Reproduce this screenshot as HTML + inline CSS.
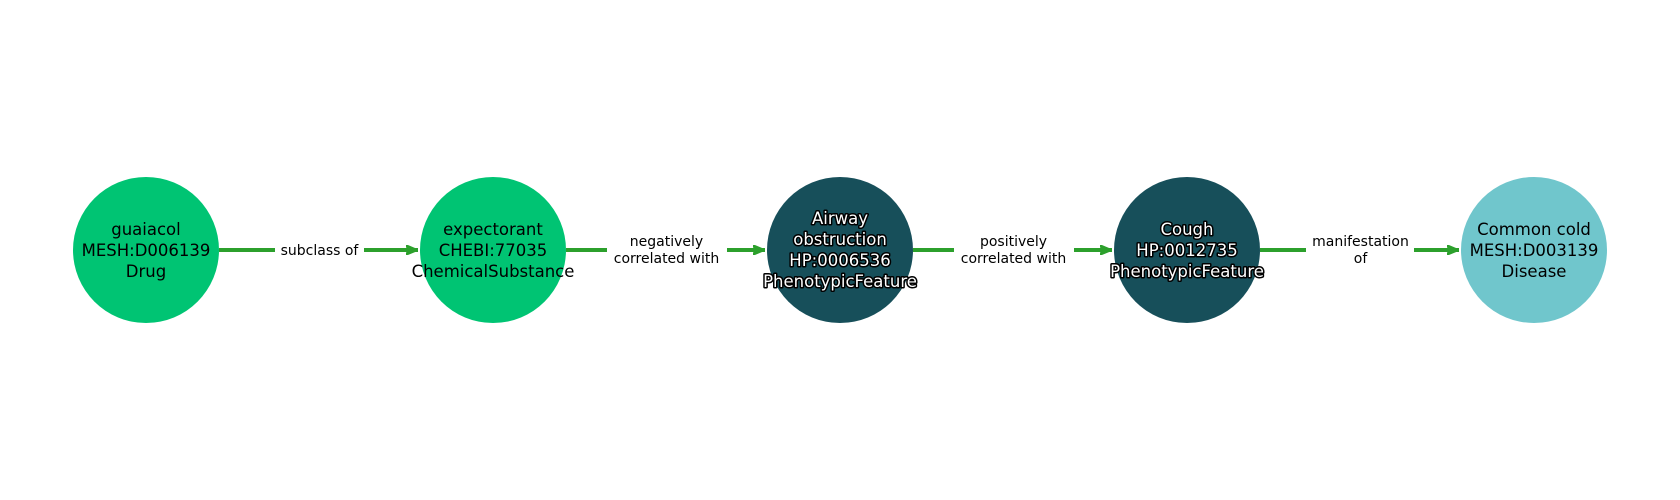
<!DOCTYPE html>
<html><head><meta charset="utf-8"><style>
body{margin:0;background:#fff}
svg{display:block}
text{font-family:"DejaVu Sans","Liberation Sans",sans-serif}
.n{font-size:16.5px;text-anchor:middle}
.w{fill:#fff;stroke:#000;stroke-width:3;paint-order:stroke;stroke-linejoin:round}
.e{font-size:14px;text-anchor:middle;fill:#000}
</style></head><body>
<svg width="1680" height="500" viewBox="0 0 1680 500">
<defs><marker id="a" markerWidth="12" markerHeight="10" refX="12" refY="5" orient="auto" markerUnits="userSpaceOnUse"><path d="M0,0 L12,5 L0,10 L2,5 Z" fill="#2ca02c" stroke="#2ca02c" stroke-width="1.5" stroke-linejoin="round"/></marker></defs>
<g stroke="#2ca02c" stroke-width="4" fill="none">
<line x1="219" y1="250" x2="418" y2="250" marker-end="url(#a)"/>
<line x1="566" y1="250" x2="765" y2="250" marker-end="url(#a)"/>
<line x1="913" y1="250" x2="1112" y2="250" marker-end="url(#a)"/>
<line x1="1260" y1="250" x2="1459" y2="250" marker-end="url(#a)"/>
</g>
<g fill="#fff">
<rect x="275" y="240" width="89" height="20"/>
<rect x="607" y="232" width="120" height="36"/>
<rect x="954" y="232" width="120" height="36"/>
<rect x="1306" y="232" width="108" height="36"/>
</g>
<text class="e" x="319.5" y="255">subclass of</text>
<text class="e" x="666.5" y="246">negatively</text><text class="e" x="666.5" y="263">correlated with</text>
<text class="e" x="1013.5" y="246">positively</text><text class="e" x="1013.5" y="263">correlated with</text>
<text class="e" x="1360.5" y="246">manifestation</text><text class="e" x="1360.5" y="263">of</text>
<circle cx="146" cy="250" r="73" fill="#00c473"/>
<circle cx="493" cy="250" r="73" fill="#00c473"/>
<circle cx="840" cy="250" r="73" fill="#174f5a"/>
<circle cx="1187" cy="250" r="73" fill="#174f5a"/>
<circle cx="1534" cy="250" r="73" fill="#70c6cc"/>
<text class="n" x="146" y="235">guaiacol</text><text class="n" x="146" y="256">MESH:D006139</text><text class="n" x="146" y="277">Drug</text>
<text class="n" x="493" y="235">expectorant</text><text class="n" x="493" y="256">CHEBI:77035</text><text class="n" x="493" y="277">ChemicalSubstance</text>
<text class="n w" x="840" y="224">Airway</text><text class="n w" x="840" y="245">obstruction</text><text class="n w" x="840" y="266">HP:0006536</text><text class="n w" x="840" y="287">PhenotypicFeature</text>
<text class="n w" x="1187" y="235">Cough</text><text class="n w" x="1187" y="256">HP:0012735</text><text class="n w" x="1187" y="277">PhenotypicFeature</text>
<text class="n" x="1534" y="235">Common cold</text><text class="n" x="1534" y="256">MESH:D003139</text><text class="n" x="1534" y="277">Disease</text>
</svg>
</body></html>
